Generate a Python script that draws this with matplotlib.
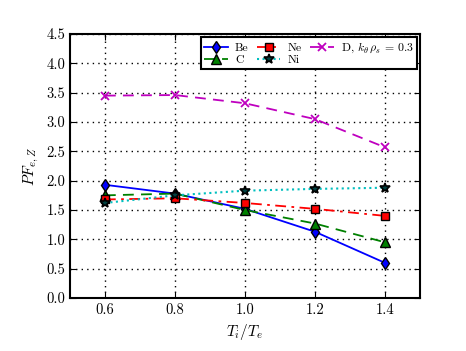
import matplotlib
matplotlib.use("Agg")
import matplotlib.pyplot as plt

ti_te = [0.6, 0.8, 1.0, 1.2, 1.4]
be = [1.93, 1.78, 1.52, 1.13, 0.60]
c = [1.75, 1.78, 1.50, 1.27, 0.95]
ne = [1.68, 1.70, 1.62, 1.52, 1.40]
ni = [1.62, 1.75, 1.83, 1.86, 1.88]
d = [3.45, 3.46, 3.32, 3.05, 2.57]

plt.rcParams['font.family'] = ['cmr10', 'DejaVu Serif']
plt.rcParams['mathtext.fontset'] = 'cm'
plt.rcParams['axes.formatter.use_mathtext'] = True

fig = plt.figure(figsize=(4.66, 3.51), dpi=100)
ax = fig.add_axes([0.150, 0.151, 0.751, 0.752])

ms = 6
ax.plot(ti_te, be, color='blue', ls='-', marker='d', ms=ms, mec='black', mew=1.0, lw=1.3, label='Be')
ax.plot(ti_te, c, color='green', ls='--', marker='^', ms=ms + 1, mec='black', mew=1.0, lw=1.3, dashes=(6, 4), label='C')
ax.plot(ti_te, ne, color='red', ls='-.', marker='s', ms=ms, mec='black', mew=1.0, lw=1.3, dashes=(6, 3, 1.5, 3), label='Ne')
ax.plot(ti_te, ni, color='c', ls=':', marker='*', ms=ms + 1, mfc='#004040', mec='black', mew=1.2, lw=1.5, label='Ni')
ax.plot(ti_te, d, color='m', ls='--', marker='x', ms=ms, mec='m', mew=1.3, lw=1.3, dashes=(6, 4), label=r'D, $k_\theta\,\rho_s\,=\,0.3$')

ax.set_xlim(0.5, 1.5)
ax.set_ylim(0, 4.5)
ax.set_xticks(ti_te)
ax.set_xticklabels(['0.6', '0.8', '1.0', '1.2', '1.4'])
ax.set_yticks([0.0, 0.5, 1.0, 1.5, 2.0, 2.5, 3.0, 3.5, 4.0, 4.5])
ax.set_yticklabels(['0.0', '0.5', '1.0', '1.5', '2.0', '2.5', '3.0', '3.5', '4.0', '4.5'])
ax.grid(True, color='black', ls=(0, (1, 3)), lw=1.0)
ax.tick_params(direction='in', top=True, right=True, labelsize=10.5, length=4)
for s in ax.spines.values():
    s.set_linewidth(1.5)

ax.set_xlabel(r'$T_i/T_e$', fontsize=11)
ax.set_ylabel(r'$PF_{e,Z}$', fontsize=11)

leg = ax.legend(loc='upper right', ncol=3, fontsize=8.5, fancybox=False, framealpha=1,
                edgecolor='black', handlelength=2.0, columnspacing=0.7, borderpad=0.3,
                labelspacing=0.2, handletextpad=0.6, borderaxespad=0.25)
leg.get_frame().set_linewidth(1.5)

fig.savefig('out.png', dpi=100)
